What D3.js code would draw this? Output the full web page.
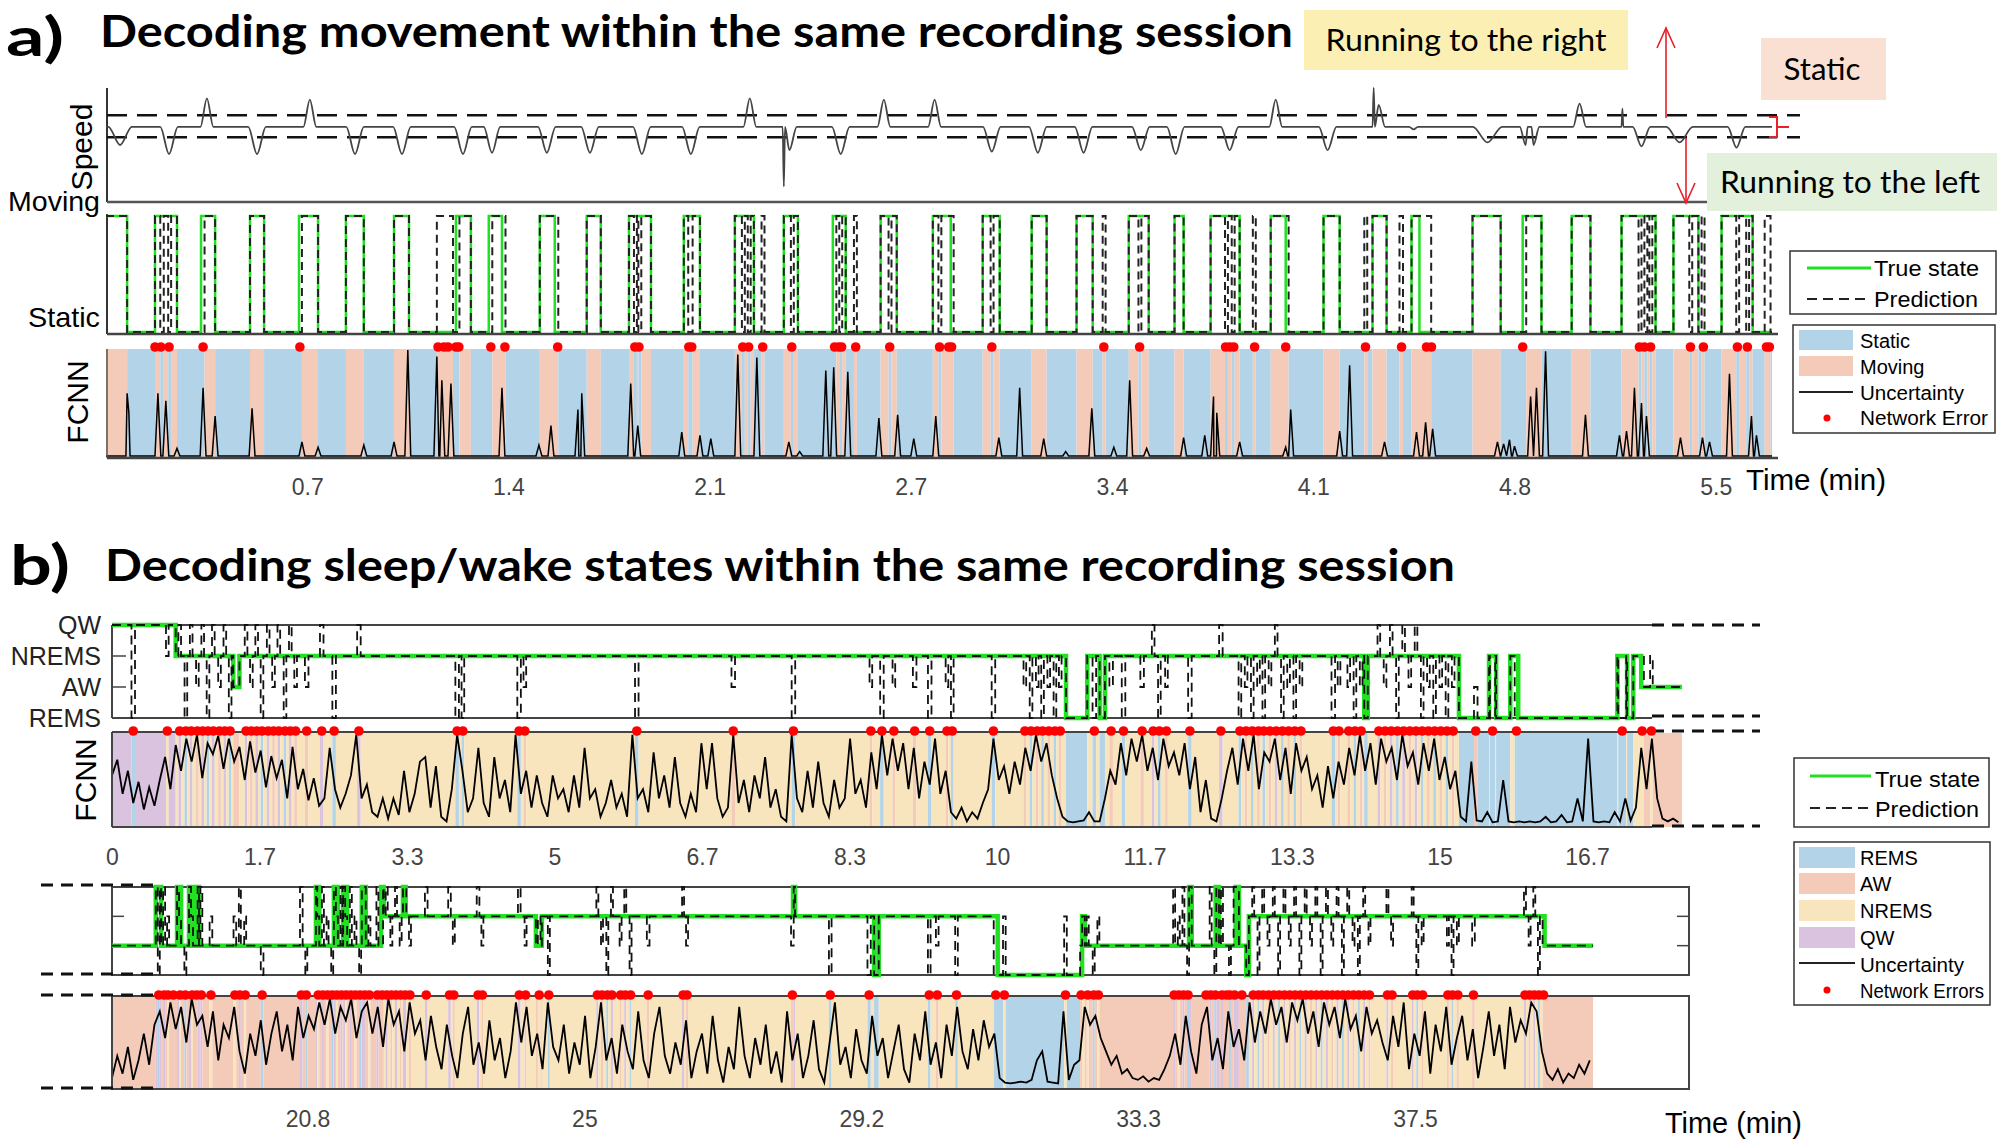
<!DOCTYPE html>
<html><head><meta charset="utf-8">
<script src="https://cdn.jsdelivr.net/npm/d3@7"></script>
<style>body{margin:0;background:#fff}svg{display:block}</style>
</head><body>
<svg id="c" width="2001" height="1142"></svg>
<script>
// ================= DATA =================
// ---- Panel a (time in minutes) ----
const aTickValues = [0.686,1.372,2.058,2.744,3.43,4.116,4.802,5.488];
const aTickLabels = ["0.7","1.4","2.1","2.7","3.4","4.1","4.8","5.5"];
const aEnd = 5.68;
// true "Moving" intervals
const aMovingTrue = [
 [0,0.072],[0.167,0.242],[0.324,0.372],[0.491,0.539],[0.658,0.723],[0.818,0.879],[0.982,1.033],
 [1.193,1.244],[1.305,1.350],[1.479,1.530],[1.639,1.687],[1.783,1.858],[1.970,2.025],[2.144,2.209],
 [2.311,2.359],[2.478,2.522],[2.641,2.696],[2.819,2.880],[2.989,3.047],[3.156,3.207],[3.309,3.364],
 [3.487,3.555],[3.643,3.674],[3.766,3.865],[3.971,4.022],[4.151,4.206],[4.318,4.366],[4.451,4.478],
 [4.659,4.755],[4.830,4.894],[4.997,5.061],[5.167,5.283],[5.344,5.429],[5.508,5.614]
];
// prediction errors: [start, duration, predicted state (1 moving, 0 static)]
const aPredErrors = [
 [0.185,0.012,0],[0.212,0.01,0],[0.324,0.012,0],[0.658,0.01,0],[1.128,0.055,1],[1.193,0.012,0],
 [1.305,0.012,0],[1.350,0.012,1],[1.530,0.012,1],[1.800,0.01,0],[1.815,0.01,0],[1.985,0.015,0],
 [2.168,0.01,0],[2.188,0.01,0],[2.235,0.01,1],[2.335,0.01,0],[2.478,0.012,0],[2.500,0.01,0],
 [2.550,0.01,1],[2.668,0.01,0],[2.838,0.01,0],[2.880,0.01,1],[3.016,0.01,0],[3.398,0.01,1],
 [3.520,0.01,0],[3.815,0.01,0],[3.838,0.01,0],[3.910,0.01,1],[4.022,0.01,1],[4.290,0.01,1],
 [4.410,0.012,1],[4.478,0.04,1],[4.830,0.012,0],[5.225,0.01,0],[5.245,0.01,0],[5.262,0.01,0],
 [5.398,0.01,0],[5.440,0.01,1],[5.558,0.01,0],[5.592,0.01,0],[5.655,0.02,1]
];
const aErrorDots = [0.167,0.187,0.215,0.331,0.661,1.132,1.152,1.166,1.193,1.203,1.312,1.360,1.540,1.803,
 1.817,1.987,1.997,2.171,2.191,2.239,2.338,2.484,2.498,2.508,2.556,2.672,2.842,2.873,2.883,3.020,3.402,
 3.524,3.817,3.831,3.845,3.916,4.022,4.294,4.417,4.502,4.519,4.830,5.228,5.245,5.266,5.402,5.446,5.562,
 5.596,5.661,5.671];
// speed events: [time, speed, half-width(min)]
const aSpeedBumps = [
 [0.048,-7,0.04],[0.215,-10.5,0.03],[0.344,11,0.022],[0.515,-10.5,0.03],[0.695,10.5,0.022],
 [0.849,-10.5,0.03],[1.009,-10.5,0.03],[1.217,-10.5,0.03],[1.316,-10,0.028],[1.503,-10,0.03],
 [1.650,-10,0.03],[1.827,-10.5,0.03],[1.994,-10.5,0.03],[2.195,11,0.022],[2.311,-23,0.004],
 [2.330,-9,0.025],[2.505,-10.5,0.03],[2.652,10.5,0.022],[2.825,10.5,0.022],[3.020,-9.5,0.03],
 [3.177,-10,0.03],[3.333,-10,0.03],[3.528,-9,0.03],[3.647,-10.5,0.03],[3.831,-9,0.03],
 [3.988,10.5,0.022],[4.165,-9,0.03],[4.322,15,0.004],[4.339,8.5,0.022],[4.458,-1,0.015],
 [4.710,-6,0.05],[4.840,-7,0.02],[4.867,-7,0.02],[5.024,9,0.022],[5.170,7,0.003],
 [5.235,-7.5,0.03],[5.365,-6,0.045],[5.559,-8,0.03]
];
const aSpeedThresholds = [4.5, -4];
// uncertainty spikes: [time, value 0..1]
const aUncertainty = [
 [0.072,0.59],[0.078,0.41],[0.177,0.59],[0.204,0.52],[0.242,0.08],[0.331,0.64],[0.372,0.38],[0.498,0.45],
 [0.668,0.14],[0.723,0.09],[0.879,0.11],[0.982,0.14],[1.029,0.99],[1.128,0.93],[1.145,0.71],[1.176,0.68],
 [1.350,0.64],[1.476,0.11],[1.517,0.29],[1.609,0.44],[1.622,0.59],[1.789,0.68],[1.813,0.29],[1.963,0.23],
 [2.025,0.20],[2.062,0.17],[2.154,0.95],[2.219,0.92],[2.328,0.14],[2.365,0.05],[2.454,0.80],[2.481,0.83],
 [2.529,0.79],[2.635,0.36],[2.699,0.39],[2.754,0.17],[2.829,0.38],[3.044,0.18],[3.115,0.64],[3.197,0.17],
 [3.272,0.05],[3.361,0.45],[3.436,0.09],[3.490,0.71],[3.548,0.08],[3.674,0.18],[3.746,0.20],[3.776,0.56],
 [3.787,0.41],[3.865,0.14],[4.022,0.09],[4.039,0.44],[4.206,0.24],[4.240,0.85],[4.359,0.14],[4.468,0.23],
 [4.499,0.32],[4.523,0.26],[4.744,0.14],[4.765,0.12],[4.785,0.16],[4.802,0.10],[4.857,0.56],[4.877,0.64],
 [4.908,0.98],[5.044,0.39],[5.160,0.20],[5.184,0.24],[5.211,0.64],[5.235,0.50],[5.252,0.38],[5.368,0.18],
 [5.443,0.18],[5.467,0.14],[5.535,0.77],[5.610,0.38],[5.627,0.20]
];

// ---- Panel b ----
const bStates = ["REMS","AW","NREMS","QW"];            // level 0..3
const b1TickValues = [0,1.667,3.333,5,6.667,8.333,10,11.667,13.333,15,16.667];
const b1TickLabels = ["0","1.7","3.3","5","6.7","8.3","10","11.7","13.3","15","16.7"];
const b2TickValues = [20.833,25,29.167,33.333,37.5];
const b2TickLabels = ["20.8","25","29.2","33.3","37.5"];
// true state transitions [time, level]
const b1True = [[0,3],[0.72,2],[1.37,1],[1.44,2],[10.78,0],[11.02,2],[11.16,0],[11.22,2],[14.15,0],[14.19,2],
 [15.22,0],[15.56,2],[15.64,0],[15.80,2],[15.89,0],[17.01,2],[17.12,0],[17.19,2],[17.28,1]];
const b1End = 17.74;
const b2True = [[17.89,1],[18.55,3],[18.63,1],[18.87,3],[18.93,1],[19.05,3],[19.11,1],[19.17,3],[19.20,1],
 [20.96,3],[21.01,1],[21.23,3],[21.29,1],[21.37,3],[21.43,1],[21.65,3],[21.71,1],[21.94,3],[21.98,2],
 [22.27,3],[22.31,2],[24.27,1],[24.36,2],[28.14,3],[28.17,2],[29.36,0],[29.43,2],[31.22,0],[32.49,2],
 [32.53,1],[34.10,3],[34.14,1],[34.50,3],[34.55,1],[34.80,3],[34.85,1],[34.96,0],[35.00,2],[39.45,1]];
const b2End = 40.18;
// prediction errors [start, duration, predicted level]
const b1Errors = [
 [0.22,0.04,0],[0.61,0.03,2],[0.75,0.03,3],[0.82,0.03,0],[0.88,0.03,3],[0.95,0.03,1],[1.01,0.03,3],
 [1.07,0.03,0],[1.13,0.03,3],[1.20,0.03,1],[1.26,0.03,3],[1.32,0.03,0],[1.50,0.03,3],[1.56,0.03,1],
 [1.62,0.03,3],[1.68,0.03,0],[1.75,0.03,3],[1.81,0.03,1],[1.87,0.03,3],[1.94,0.03,0],[2.00,0.03,3],
 [2.06,0.03,1],[2.18,0.04,1],[2.35,0.04,3],[2.49,0.04,0],[2.77,0.04,3],[3.88,0.04,0],[3.95,0.03,0],
 [4.58,0.04,0],[4.65,0.03,1],[5.91,0.04,0],[7.00,0.04,1],[7.68,0.04,0],[8.56,0.03,1],[8.68,0.04,0],
 [8.82,0.03,1],[9.05,0.04,1],[9.22,0.04,0],[9.42,0.03,1],[9.48,0.03,0],[9.94,0.04,0],[10.30,0.03,1],
 [10.37,0.03,0],[10.44,0.03,1],[10.50,0.03,0],[10.57,0.03,1],[10.64,0.03,0],[10.70,0.03,1],
 [11.08,0.04,0],[11.27,0.04,1],[11.41,0.04,0],[11.62,0.04,1],[11.75,0.03,3],[11.82,0.03,0],
 [11.90,0.03,1],[12.16,0.04,0],[12.51,0.04,3],[12.73,0.03,0],[12.80,0.03,1],[12.87,0.03,0],
 [12.94,0.03,1],[13.00,0.03,0],[13.07,0.03,1],[13.14,0.03,3],[13.21,0.03,0],[13.28,0.03,1],
 [13.35,0.03,0],[13.42,0.03,1],[13.78,0.04,0],[13.85,0.03,1],[13.96,0.03,1],[14.03,0.03,0],
 [14.10,0.03,1],[14.30,0.03,3],[14.37,0.03,1],[14.44,0.03,3],[14.51,0.03,0],[14.58,0.03,3],
 [14.65,0.03,1],[14.72,0.03,3],[14.79,0.03,0],[14.86,0.03,1],[14.93,0.03,0],[15.00,0.03,1],
 [15.07,0.03,0],[15.14,0.03,1],[15.39,0.04,1],[15.57,0.06,0],[15.85,0.04,0],[17.02,0.09,0],
 [17.27,0.04,2],[17.38,0.03,2]
];
const b2Errors = [
 [18.58,0.03,0],[18.66,0.03,3],[18.72,0.03,2],[18.80,0.03,1],[18.90,0.03,2],[18.98,0.03,0],[19.08,0.03,2],
 [19.15,0.03,1],[19.22,0.03,3],[19.36,0.04,2],[19.72,0.04,2],[19.80,0.03,3],[19.88,0.03,2],[20.13,0.04,0],
 [20.72,0.04,3],[20.80,0.03,0],[20.98,0.03,2],[21.05,0.03,3],[21.12,0.03,2],[21.19,0.03,0],[21.26,0.03,2],
 [21.33,0.03,3],[21.40,0.03,2],[21.47,0.03,3],[21.54,0.03,2],[21.61,0.03,0],[21.68,0.03,3],[21.75,0.03,2],
 [21.87,0.03,3],[21.94,0.03,1],[22.01,0.03,3],[22.08,0.03,1],[22.15,0.03,3],[22.22,0.03,1],[22.29,0.03,3],
 [22.36,0.03,1],[22.60,0.04,3],[22.95,0.04,3],[23.02,0.03,1],[23.38,0.04,3],[23.45,0.03,1],[24.00,0.04,3],
 [24.10,0.03,1],[24.30,0.04,2],[24.45,0.03,0],[25.18,0.03,3],[25.25,0.03,1],[25.33,0.03,0],[25.40,0.03,3],
 [25.53,0.03,1],[25.60,0.03,3],[25.68,0.03,0],[25.94,0.04,1],[26.47,0.03,3],[26.53,0.03,1],[28.11,0.04,1],
 [28.68,0.04,0],[29.26,0.05,0],[30.17,0.04,0],[30.29,0.04,1],[30.58,0.04,0],[31.16,0.06,0],[31.30,0.04,2],
 [32.22,0.04,2],[32.46,0.03,1],[32.56,0.03,2],[32.65,0.03,0],[32.72,0.03,2],[33.86,0.03,3],[33.93,0.03,2],
 [34.00,0.03,3],[34.07,0.03,0],[34.34,0.03,1],[34.41,0.03,3],[34.48,0.03,0],[34.58,0.03,3],[34.65,0.03,1],
 [34.70,0.03,0],[34.77,0.03,3],[34.88,0.03,1],[35.05,0.03,3],[35.13,0.03,0],[35.20,0.03,3],[35.28,0.03,1],
 [35.36,0.03,3],[35.44,0.03,0],[35.52,0.03,3],[35.60,0.03,1],[35.68,0.03,3],[35.76,0.03,0],[35.84,0.03,3],
 [35.92,0.03,1],[36.00,0.03,3],[36.08,0.03,0],[36.16,0.03,3],[36.24,0.03,1],[36.32,0.03,3],[36.40,0.03,0],
 [36.48,0.03,3],[36.56,0.03,1],[36.64,0.03,0],[36.72,0.03,3],[36.80,0.03,1],[37.07,0.03,3],[37.14,0.03,1],
 [37.45,0.03,3],[37.52,0.03,0],[37.60,0.03,1],[37.98,0.03,1],[38.05,0.03,0],[38.13,0.03,1],[38.36,0.04,1],
 [39.14,0.03,3],[39.21,0.03,1],[39.28,0.03,3],[39.35,0.03,0],[39.42,0.03,1]
];
// uncertainty (percent), regularly sampled
const b1UncStart = 0, b1UncStep = 0.06;
const b1Uncertainty = [
 55,72,35,60,25,48,18,42,22,50,75,40,
 88,60,95,70,99,52,90,78,98,62,95,70,86,50,92,58,82,42,76,52,72,30,86,40,62,28,52,22,
 30,85,40,20,35,55,99,30,45,15,10,30,8,30,12,60,15,35,70,75,20,65,10,5,40,99,60,15,30,85,
 25,10,75,30,50,15,99,35,60,20,55,25,10,55,30,40,15,55,20,85,30,40,10,25,50,20,35,10,99,30,
 40,15,80,30,55,20,75,25,10,35,15,90,40,90,30,10,20,99,25,50,15,55,30,75,20,40,10,5,99,30,
 15,60,20,70,25,10,50,20,30,95,35,50,20,80,40,99,55,95,
 60,90,40,85,30,70,45,95,35,60,15,8,20,5,15,8,25,40,95,50,65,35,70,45,
 85,60,99,70,90,55,30,10,
 5,4,5,6,15,5,5,
 30,60,45,90,55,95,70,
 99,60,85,50,95,65,80,55,90,
 40,75,15,50,8,5,30,60,
 85,45,95,60,99,40,80,70,95,50,85,35,90,60,75,40,
 55,20,65,30,70,45,
 85,55,99,60,90,45,95,70,85,50,99,65,80,45,90,60,95,50,75,40,60,
 10,
 5,70,6,5,15,4,5,50,5,4,5,4,5,4,5,10,4,5,12,4,5,30,5,95,5,4,5,4,15,5,30,6,20,
 85,40,95,30,8,5,8,4
];
const b2UncStart = 17.89, b2UncStep = 0.08;
const b2Uncertainty = [
 10,35,15,45,8,30,60,25,70,
 85,55,95,65,90,50,99,70,80,
 45,85,30,70,55,90,40,15,60,35,
 75,25,60,85,40,70,30,90,55,80,65,
 95,70,99,60,90,75,99,55,85,95,60,
 90,45,99,70,85,40,95,60,75,30,80,45,
 20,70,35,10,60,90,25,50,15,75,30,55,10,40,
 95,50,90,35,60,20,95,45,30,70,15,50,
 25,80,10,45,95,30,55,15,70,40,20,85,30,10,60,90,35,15,50,25,75,10,40,60,
 15,80,30,5,45,20,90,35,10,55,25,70,15,40,5,85,30,60,10,35,75,20,5,50,95,25,45,10,65,30,
 15,80,35,55,10,40,70,20,5,60,30,85,25,50,10,70,35,90,40,20,65,30,75,45,60,
 10,5,4,5,6,5,8,30,40,6,5,4,85,8,25,30,
 90,70,80,55,40,25,35,15,20,10,8,12,6,10,8,20,35,
 60,25,80,40,15,70,90,30,55,20,85,45,65,30,95,50,
 85,60,99,70,90,50,95,75,99,60,85,45,95,70,90,55,99,65,80,40,90,60,75,50,
 30,80,45,95,20,60,35,85,15,70,40,90,25,55,80,30,65,10,45,85,35,70,20,90,50,75,60,
 95,85,40,15,
 8,20,5,15,10,25,15,30
];

// ================= DRAWING =================
const svg = d3.select("#c");
const FONT = "'Liberation Sans', Arial, sans-serif";
const TFONT = "Lato, 'Open Sans', sans-serif";
const stateColors = ["#b3d3e8","#f4cbb9","#f9e5bd","#dac3de"]; // REMS, AW, NREMS, QW
const aColors = ["#b3d3e8","#f4cbb9"]; // static, moving
const GREEN = "#22e022";

function txt(x,y,s,o={}){
  const t=svg.append("text").attr("x",x).attr("y",y).text(s)
    .attr("font-family",o.f||FONT).attr("font-size",o.size||22).attr("fill",o.fill||"#000");
  if(o.anchor) t.attr("text-anchor",o.anchor);
  if(o.weight) t.attr("font-weight",o.weight);
  if(o.len) t.attr("textLength",o.len).attr("lengthAdjust","spacingAndGlyphs");
  if(o.dy) t.attr("dy",o.dy);
  if(o.rot) t.attr("transform",`rotate(${o.rot},${x},${y})`);
  return t;
}
function line(x1,y1,x2,y2,o={}){
  return svg.append("line").attr("x1",x1).attr("y1",y1).attr("x2",x2).attr("y2",y2)
   .attr("stroke",o.c||"#333").attr("stroke-width",o.w||2).attr("stroke-dasharray",o.dash||null);
}
function stateAt(base,t){let s=base[0][1];for(const [bt,bs] of base){if(bt<=t)s=bs;else break;}return s;}
function segments(base,end,errs){
  const bp=new Set([...base.map(d=>d[0]),end]);
  errs.forEach(([t,d])=>{bp.add(t);bp.add(Math.min(t+d,end));});
  const pts=[...bp].filter(t=>t<=end).sort((a,b)=>a-b);
  const segs=[];
  for(let i=0;i<pts.length-1;i++){
    const a=pts[i],b=pts[i+1]; if(b<=a) continue;
    const m=(a+b)/2;
    const e=errs.find(([t,d])=>m>=t&&m<t+d);
    const s=e?e[2]:stateAt(base,m);
    if(segs.length&&segs[segs.length-1].s===s) segs[segs.length-1].b=b; else segs.push({a,b,s});
  }
  return segs;
}
function stepPath(segs,x,y){
  const pts=segs.map(d=>[d.a,d.s]); const l=segs[segs.length-1]; pts.push([l.b,l.s]);
  return d3.line().x(d=>x(d[0])).y(d=>y(d[1])).curve(d3.curveStepAfter)(pts);
}
function xAxis(g,scale,vals,labels,y){
  const ax=svg.append("g").attr("transform",`translate(0,${y})`)
    .call(d3.axisBottom(scale).tickValues(vals).tickFormat((d,i)=>labels[i]).tickSize(0));
  ax.select(".domain").remove();
  ax.selectAll("text").attr("y",0).attr("dy","0.35em").attr("font-family",FONT)
    .attr("font-size",23).attr("fill","#444");
}

// ---------- Panel a ----------
txt(6,56,"a)",{f:TFONT,size:54,weight:700,len:58});
txt(100,47,"Decoding movement within the same recording session",{f:TFONT,size:44,weight:700,len:1193});

const xA=d3.scaleLinear().domain([0,aEnd]).range([106,1772]);
// speed
const ySp=d3.scaleLinear().domain([-29,15]).range([202,88]);
line(107,88,107,202,{w:2});
line(107,202,1772,202,{w:2.5,c:"#555"});
aSpeedThresholds.forEach(v=>line(107,ySp(v),1800,ySp(v),{c:"#111",w:2.5,dash:"20,10"}));
const spPts=[[0,0]];
aSpeedBumps.forEach(([t,v,w])=>{spPts.push([t-w,0],[t,v],[t+w,0]);});
spPts.push([aEnd,0]); spPts.sort((a,b)=>a[0]-b[0]);
svg.append("path").attr("d",d3.line().x(d=>xA(d[0])).y(d=>ySp(d[1])).curve(d3.curveMonotoneX)(spPts))
  .attr("fill","none").attr("stroke","#444").attr("stroke-width",1.8);
txt(92,147,"Speed",{size:30,anchor:"middle",rot:-90});
txt(100,211,"Moving",{size:28,anchor:"end",len:92});
txt(100,327,"Static",{size:28,anchor:"end",len:72});

// moving/static
const yMv=d3.scaleLinear().domain([0,1]).range([332,216]);
const aBase=[[0,0]];
aMovingTrue.forEach(([s,e])=>{aBase.push([s,1],[e,0]);});
aBase.sort((a,b)=>a[0]-b[0]);
const aTrueSeg=segments(aBase,aEnd,[]);
const aPredSeg=segments(aBase,aEnd,aPredErrors);
line(107,214,107,334,{w:2});
svg.append("path").attr("d",stepPath(aTrueSeg,xA,yMv)).attr("fill","none").attr("stroke",GREEN).attr("stroke-width",2.5);
svg.append("path").attr("d",stepPath(aPredSeg,xA,yMv)).attr("fill","none").attr("stroke","#222").attr("stroke-width",2).attr("stroke-dasharray","8,5");
line(107,334,1778,334,{w:2.5,c:"#444"});

// FCNN a
const yUa=d3.scaleLinear().domain([0,1]).range([457,349]);
svg.append("g").selectAll("rect").data(aPredSeg).join("rect")
  .attr("x",d=>xA(d.a)).attr("width",d=>Math.max(0.5,xA(d.b)-xA(d.a)))
  .attr("y",349).attr("height",108).attr("fill",d=>aColors[d.s]);
const uPts=[[0,0.01]];
aUncertainty.forEach(([t,h])=>uPts.push([t-0.01,0.01],[t,h],[t+0.01,0.01]));
uPts.push([aEnd,0.01]); uPts.sort((a,b)=>a[0]-b[0]);
svg.append("path").attr("d",d3.line().x(d=>xA(d[0])).y(d=>yUa(d[1]))(uPts))
  .attr("fill","none").attr("stroke","#000").attr("stroke-width",1.5);
line(107,349,107,458,{w:1.5,c:"#555"});
line(107,458,1778,458,{w:2.5,c:"#444"});
svg.append("g").selectAll("circle").data(aErrorDots).join("circle")
  .attr("cx",d=>xA(d)).attr("cy",347).attr("r",4.8).attr("fill","#f00");
txt(88,402,"FCNN",{size:30,anchor:"middle",rot:-90});
xAxis(svg,xA,aTickValues,aTickLabels,487);
txt(1746,490,"Time (min)",{size:29,len:140});

// annotations
svg.append("rect").attr("x",1304).attr("y",10).attr("width",324).attr("height",60).attr("fill","#fcefb3");
txt(1466,51,"Running to the right",{f:TFONT,size:30,anchor:"middle",len:281});
svg.append("rect").attr("x",1761).attr("y",38).attr("width",125).attr("height",62).attr("fill","#fae0d2");
txt(1822,80,"Static",{f:TFONT,size:30,anchor:"middle",len:77});
svg.append("rect").attr("x",1707).attr("y",153).attr("width",290).attr("height",58).attr("fill","#e3f0db");
txt(1850,193,"Running to the left",{f:TFONT,size:30,anchor:"middle",len:260});
const RED="#e8202a";
line(1666,118,1666,28,{c:RED,w:1.6});
svg.append("path").attr("d","M1657,48 L1666,28 L1675,48").attr("fill","none").attr("stroke",RED).attr("stroke-width",1.6);
line(1686,138,1686,203,{c:RED,w:1.6});
svg.append("path").attr("d","M1677,183 L1686,203 L1695,183").attr("fill","none").attr("stroke",RED).attr("stroke-width",1.6);
svg.append("path").attr("d","M1769,117 L1777,117 L1777,137 L1769,137 M1777,127 L1789,127").attr("fill","none").attr("stroke",RED).attr("stroke-width",2);

// legend a
svg.append("rect").attr("x",1790).attr("y",251).attr("width",206).attr("height",63).attr("fill","#fff").attr("stroke","#333").attr("stroke-width",1.5);
line(1807,268,1871,268,{c:GREEN,w:3});
txt(1874,276,"True state",{size:22,len:105});
line(1807,299,1871,299,{c:"#222",w:2,dash:"10,6"});
txt(1874,307,"Prediction",{size:22,len:104});
svg.append("rect").attr("x",1793).attr("y",325).attr("width",202).attr("height",108).attr("fill","#fff").attr("stroke","#333").attr("stroke-width",1.5);
svg.append("rect").attr("x",1799).attr("y",330).attr("width",54).attr("height",20).attr("fill",aColors[0]);
txt(1860,341,"Static",{size:20,dy:"0.35em"});
svg.append("rect").attr("x",1799).attr("y",356).attr("width",54).attr("height",20).attr("fill",aColors[1]);
txt(1860,367,"Moving",{size:20,dy:"0.35em"});
line(1799,392,1853,392,{c:"#222",w:2});
txt(1860,393,"Uncertainty",{size:20,dy:"0.35em",len:104});
svg.append("circle").attr("cx",1827).attr("cy",418).attr("r",3.5).attr("fill","#f00");
txt(1860,418,"Network Error",{size:20,dy:"0.35em",len:128});

// ---------- Panel b ----------
txt(10,585,"b)",{f:TFONT,size:56,weight:700,len:60});
txt(105,581,"Decoding sleep/wake states within the same recording session",{f:TFONT,size:44,weight:700,len:1350});

// Row 1
const xB1=d3.scaleLinear().domain([0,16.667]).range([112,1587]);
const yS1=d3.scaleLinear().domain([0,3]).range([718,625]);
const yU1=d3.scaleLinear().domain([0,1]).range([826,734]);
const b1TrueSeg=segments(b1True,b1End,[]);
const b1PredSeg=segments(b1True,b1End,b1Errors);
line(112,625,1652,625,{w:2,c:"#444"}); line(112,718,1652,718,{w:2,c:"#444"}); line(112,625,112,718,{w:2,c:"#444"});
[1,2].forEach(l=>line(112,yS1(l),126,yS1(l),{w:1.5,c:"#444"}));
line(1652,625,1760,625,{w:3,c:"#111",dash:"12,8"}); line(1652,716,1760,716,{w:3,c:"#111",dash:"12,8"});
svg.append("path").attr("d",stepPath(b1TrueSeg,xB1,yS1)).attr("fill","none").attr("stroke",GREEN).attr("stroke-width",4.5);
svg.append("path").attr("d",stepPath(b1PredSeg,xB1,yS1)).attr("fill","none").attr("stroke","#111").attr("stroke-width",1.8).attr("stroke-dasharray","9,6");
bStates.forEach((s,i)=>txt(101,yS1(i),s,{size:25,anchor:"end",dy:"0.35em",fill:"#222"}));
// FCNN 1
svg.append("g").selectAll("rect").data(b1PredSeg).join("rect")
  .attr("x",d=>xB1(d.a)).attr("width",d=>Math.max(0.6,xB1(d.b)-xB1(d.a)))
  .attr("y",733).attr("height",94).attr("fill",d=>stateColors[d.s]);
svg.append("path").attr("d",d3.line().x((d,i)=>xB1(Math.min(b1End,b1UncStart+i*b1UncStep))).y(d=>yU1(d/100))(b1Uncertainty))
  .attr("fill","none").attr("stroke","#000").attr("stroke-width",1.8);
line(112,732,1652,732,{w:2,c:"#444"}); line(112,827,1652,827,{w:2,c:"#444"}); line(112,732,112,827,{w:2,c:"#444"});
line(1652,731,1760,731,{w:3,c:"#111",dash:"12,8"}); line(1652,826,1760,826,{w:3,c:"#111",dash:"12,8"});
svg.append("g").selectAll("circle").data(b1Errors).join("circle")
  .attr("cx",d=>xB1(d[0]+d[1]/2)).attr("cy",731).attr("r",4.8).attr("fill","#f00");
txt(96,780,"FCNN",{size:30,anchor:"middle",rot:-90});
xAxis(svg,xB1,b1TickValues,b1TickLabels,857);

// Row 2
const xB2=d3.scaleLinear().domain([20.833,37.5]).range([307.5,1415]);
const yS2=d3.scaleLinear().domain([0,3]).range([975,887]);
const yU2=d3.scaleLinear().domain([0,1]).range([1087,998]);
const b2TrueSeg=segments(b2True,b2End,[]);
const b2PredSeg=segments(b2True,b2End,b2Errors);
svg.append("rect").attr("x",112).attr("y",887).attr("width",1577).attr("height",88).attr("fill","none").attr("stroke","#444").attr("stroke-width",2);
[1,2].forEach(l=>{line(112,yS2(l),124,yS2(l),{w:1.5,c:"#444"});line(1677,yS2(l),1689,yS2(l),{w:1.5,c:"#444"});});
line(41,885,153,885,{w:3,c:"#111",dash:"12,8"}); line(41,974,153,974,{w:3,c:"#111",dash:"12,8"});
svg.append("path").attr("d",stepPath(b2TrueSeg,xB2,yS2)).attr("fill","none").attr("stroke",GREEN).attr("stroke-width",4.5);
svg.append("path").attr("d",stepPath(b2PredSeg,xB2,yS2)).attr("fill","none").attr("stroke","#111").attr("stroke-width",1.8).attr("stroke-dasharray","9,6");
svg.append("g").selectAll("rect").data(b2PredSeg).join("rect")
  .attr("x",d=>xB2(d.a)).attr("width",d=>Math.max(0.6,xB2(d.b)-xB2(d.a)))
  .attr("y",997).attr("height",91).attr("fill",d=>stateColors[d.s]);
svg.append("path").attr("d",d3.line().x((d,i)=>xB2(Math.min(b2End,b2UncStart+i*b2UncStep))).y(d=>yU2(d/100))(b2Uncertainty))
  .attr("fill","none").attr("stroke","#000").attr("stroke-width",1.8);
svg.append("rect").attr("x",112).attr("y",996).attr("width",1577).attr("height",93).attr("fill","none").attr("stroke","#444").attr("stroke-width",2);
line(41,995,153,995,{w:3,c:"#111",dash:"12,8"}); line(41,1088,153,1088,{w:3,c:"#111",dash:"12,8"});
svg.append("g").selectAll("circle").data(b2Errors).join("circle")
  .attr("cx",d=>xB2(d[0]+d[1]/2)).attr("cy",995).attr("r",4.8).attr("fill","#f00");
xAxis(svg,xB2,b2TickValues,b2TickLabels,1119);
txt(1665,1133,"Time (min)",{size:29,len:137});

// legends b
svg.append("rect").attr("x",1794).attr("y",758).attr("width",195).attr("height",69).attr("fill","#fff").attr("stroke","#333").attr("stroke-width",1.5);
line(1810,776,1871,776,{c:GREEN,w:3});
txt(1875,779,"True state",{size:22,dy:"0.35em",len:105});
line(1810,808,1871,808,{c:"#222",w:2,dash:"10,6"});
txt(1875,809,"Prediction",{size:22,dy:"0.35em",len:104});
svg.append("rect").attr("x",1794).attr("y",842).attr("width",196).attr("height",163).attr("fill","#fff").attr("stroke","#333").attr("stroke-width",1.5);
const legB=[["REMS",0,847],["AW",1,873],["NREMS",2,900],["QW",3,927]];
legB.forEach(([n,s,y])=>{
  svg.append("rect").attr("x",1799).attr("y",y).attr("width",56).attr("height",21).attr("fill",stateColors[s]);
  txt(1860,y+11,n,{size:20,dy:"0.35em"});
});
line(1799,963,1855,963,{c:"#222",w:2});
txt(1860,965,"Uncertainty",{size:20,dy:"0.35em",len:104});
svg.append("circle").attr("cx",1827).attr("cy",990).attr("r",3.5).attr("fill","#f00");
txt(1860,991,"Network Errors",{size:20,dy:"0.35em",len:124});
</script>
</body></html>
